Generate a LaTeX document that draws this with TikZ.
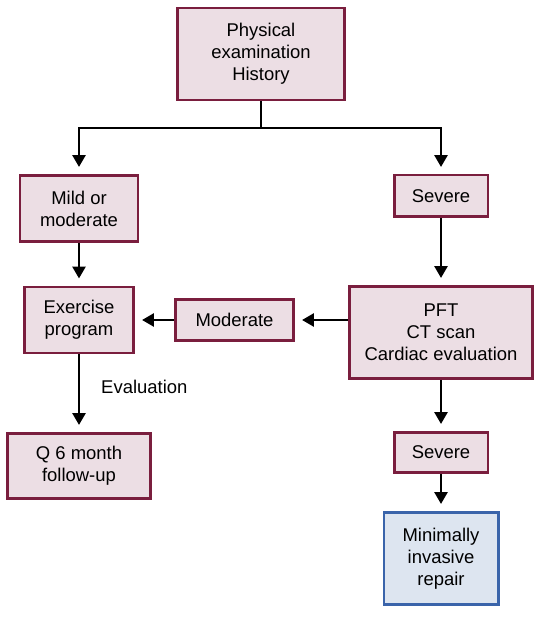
\documentclass[tikz,border=0pt]{standalone}
\usepackage{fontspec}
\setmainfont{Liberation Sans}
\usepackage{xcolor}
\usepackage{tikz}
\usetikzlibrary{arrows.meta,positioning,calc}

\definecolor{boxline}{RGB}{122,30,62}
\definecolor{boxfill}{RGB}{236,222,228}
\definecolor{endline}{RGB}{58,100,170}
\definecolor{endfill}{RGB}{221,229,240}

\begin{document}
\begin{tikzpicture}[x=0.02cm, y=-0.02cm, font=\fontsize{10.5}{12.5}\selectfont,
    stepbox/.style={draw=boxline, fill=boxfill, line width=0.05cm, align=center, inner sep=0pt},
    endbox/.style={stepbox, draw=endline, fill=endfill},
    wire/.style={line width=0.055cm},
    link/.style={wire, -{Triangle[length=0.24cm,width=0.26cm]}, shorten >=0.14cm}]
    \useasboundingbox (0,0) rectangle (539,617);

    \node[stepbox, minimum width=3.35cm, minimum height=1.84cm] (exam) at (261,54) {Physical\\examination\\History};
    \node[stepbox, minimum width=2.37cm, minimum height=1.33cm] (mild) at (79,208.5) {Mild or\\moderate};
    \node[stepbox, minimum width=1.87cm, minimum height=0.83cm] (severeA) at (441,196) {Severe};
    \node[stepbox, minimum width=2.19cm, minimum height=1.33cm] (exercise) at (79,320) {Exercise\\program};
    \node[stepbox, minimum width=2.37cm, minimum height=0.83cm] (moderate) at (234.5,320) {Moderate};
    \node[stepbox, minimum width=3.67cm, minimum height=1.85cm] (pft) at (441,332.5) {PFT\\CT scan\\Cardiac evaluation};
    \node[stepbox, minimum width=1.87cm, minimum height=0.81cm] (severeB) at (441,452.5) {Severe};
    \node[endbox, minimum width=2.29cm, minimum height=1.85cm] (repair) at (441,558.5) {Minimally\\invasive\\repair};
    \node[stepbox, minimum width=2.87cm, minimum height=1.31cm] (followup) at (79,466) {Q 6 month\\follow-up};

    \coordinate (split) at (261,128);
    \draw[wire] (exam.south) -- (split);
    \draw[link] (split) -| (mild.north);
    \draw[link] (split) -| (severeA.north);
    \draw[link] (mild) -- (exercise);
    \draw[link] (severeA) -- (pft);
    \draw[link] (pft.west |- moderate.east) -- (moderate.east);
    \draw[link] (moderate) -- (exercise);
    \draw[link] (exercise) -- node[pos=0.42, right=0.3cm] (eval) {Evaluation} (followup);
    \draw[link] (pft) -- (severeB);
    \draw[link] (severeB) -- (repair);
\end{tikzpicture}
\end{document}
